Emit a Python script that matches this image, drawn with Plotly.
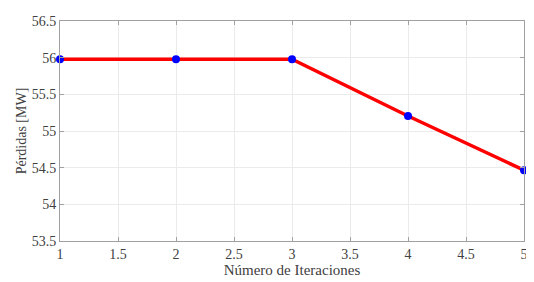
import plotly.graph_objects as go

iteraciones = [1, 2, 3, 4, 5]
perdidas = [55.98, 55.98, 55.98, 55.205, 54.465]
x_ticks = [1, 1.5, 2, 2.5, 3, 3.5, 4, 4.5, 5]
x_labels = ["1", "1.5", "2", "2.5", "3", "3.5", "4", "4.5", "5"]
y_ticks = [53.5, 54, 54.5, 55, 55.5, 56, 56.5]
y_labels = ["53.5", "54", "54.5", "55", "55.5", "56", "56.5"]

fig = go.Figure()
fig.add_trace(go.Scatter(
    x=iteraciones, y=perdidas, mode="lines+markers",
    line=dict(color="#ff0000", width=3.5),
    marker=dict(color="#0000ff", size=8),
    cliponaxis=False,
    showlegend=False,
))

font = dict(family="Liberation Serif, Times New Roman, serif", size=14, color="#404040")
xtitle_font = dict(family="Liberation Serif, Times New Roman, serif", size=15, color="#404040")
axis_common = dict(
    showline=True, linecolor="#a0a0a0", linewidth=1, mirror="ticks",
    ticks="inside", ticklen=4, tickcolor="#a0a0a0",
    showgrid=True, gridcolor="#ebebeb", gridwidth=1,
    zeroline=False, tickfont=font, ticklabeloverflow="allow",
)
fig.update_xaxes(range=[1, 5], tickvals=x_ticks, ticktext=x_labels,
                 title=dict(text="Número de Iteraciones", font=xtitle_font, standoff=3),
                 **axis_common)
fig.update_yaxes(range=[53.5, 56.5], tickvals=y_ticks, ticktext=y_labels,
                 title=dict(text="Pérdidas [MW]", font=font, standoff=1),
                 **axis_common)
fig.update_layout(
    width=526, height=274,
    margin=dict(l=52, r=6, t=6, b=41),
    paper_bgcolor="white", plot_bgcolor="white",
)
fig.write_html("out.html")
